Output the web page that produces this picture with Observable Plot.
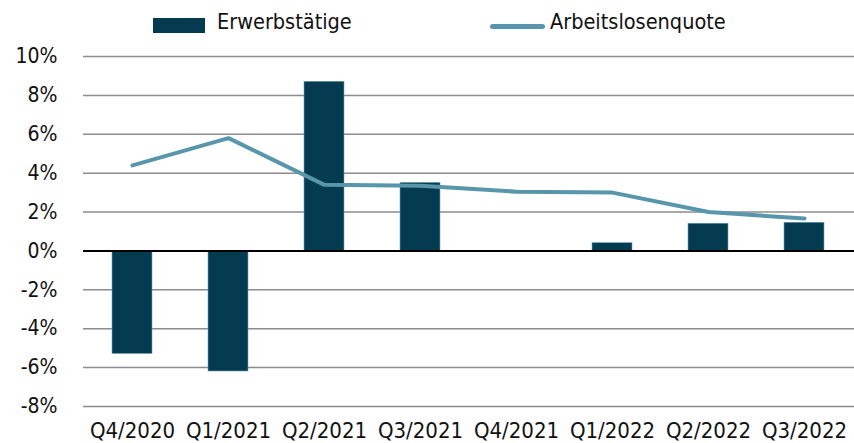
<!DOCTYPE html>
<html><head><meta charset="utf-8">
<script src="https://cdn.jsdelivr.net/npm/d3@7"></script>
<script src="https://cdn.jsdelivr.net/npm/@observablehq/plot@0.6"></script>
<style>
body{margin:0;background:#fff;font-family:"DejaVu Sans Condensed","DejaVu Sans",sans-serif;}
#wrap{position:relative;width:854px;height:443px;overflow:hidden;}
#legend{position:relative;height:45px;width:854px;font-size:21.5px;color:#111;}
#legend .sw1{position:absolute;left:153px;top:18px;width:52px;height:15px;background:#043b51;}
#legend .t1{position:absolute;left:217px;top:9px;line-height:26px;}
#legend .sw2{position:absolute;left:490px;top:24px;width:55px;height:5px;border-radius:3px;background:#5796ab;}
#legend .t2{position:absolute;left:550px;top:9px;line-height:26px;}
#chart svg g[aria-label="x-axis tick label"]{font-size:22px;}
</style></head>
<body>
<div id="wrap">
  <div id="legend">
    <div class="sw1"></div><div class="t1">Erwerbstätige</div>
    <div class="sw2"></div><div class="t2">Arbeitslosenquote</div>
  </div>
  <div id="chart"></div>
</div>
<script>
const quarters = ["Q4/2020","Q1/2021","Q2/2021","Q3/2021","Q4/2021","Q1/2022","Q2/2022","Q3/2022"];
const erwerbstaetige = [-5.3, -6.2, 8.7, 3.5, 0, 0.4, 1.4, 1.45];
const arbeitslosenquote = [4.4, 5.8, 3.4, 3.35, 3.05, 3.0, 2.0, 1.67];
const yTicks = [-8, -6, -4, -2, 0, 2, 4, 6, 8, 10];

const rows = quarters.map((q, i) => ({q, e: erwerbstaetige[i], a: arbeitslosenquote[i]}));
const font = '"DejaVu Sans Condensed","DejaVu Sans",sans-serif';

const chart = Plot.plot({
  width: 854, height: 398,
  marginTop: 11, marginBottom: 37, marginLeft: 83, marginRight: 0,
  style: {fontFamily: font, fontSize: "21px", color: "#111", background: "#fff"},
  x: {domain: quarters, paddingInner: 0.58, paddingOuter: 0.29, label: null, tickSize: 0, tickPadding: 16},
  y: {domain: [-8, 10], ticks: yTicks, tickFormat: d => d + "%", label: null, tickSize: 0, tickPadding: 26},
  marks: [
    Plot.ruleY(yTicks.filter(d => d !== 0), {stroke: "#8c8c8c", strokeWidth: 1.5}),
    Plot.barY(rows, {x: "q", y: "e", fill: "#043b51", stroke: "#6fa3b8", strokeWidth: 0.6}),
    Plot.ruleY([0], {stroke: "#000", strokeWidth: 2}),
    Plot.line(rows, {x: "q", y: "a", stroke: "#5796ab", strokeWidth: 4, strokeLinecap: "round", strokeLinejoin: "round"})
  ]
});
document.getElementById("chart").appendChild(chart);
</script>
</body></html>
